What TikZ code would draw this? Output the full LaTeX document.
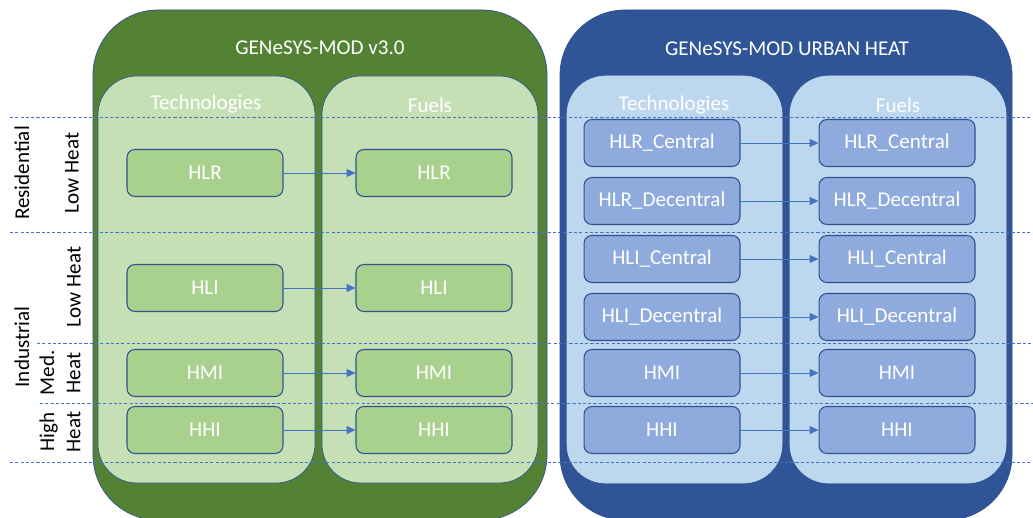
\documentclass[tikz,border=0pt]{standalone}
\usepackage{fontspec}
\setmainfont{Carlito}
\usetikzlibrary{math,arrows.meta}

\definecolor{gdark}{HTML}{548235}
\definecolor{glight}{HTML}{C5E0B4}
\definecolor{gbox}{HTML}{A9D18E}
\definecolor{bdark}{HTML}{2F5597}
\definecolor{blight}{HTML}{BDD7EE}
\definecolor{bbox}{HTML}{8FAADC}
\definecolor{edge}{HTML}{2F528F}
\definecolor{sep}{HTML}{4472C4}

\begin{document}
\begin{tikzpicture}[x=0.02cm, y=-0.02cm,
  every node/.style={font=\fontsize{12}{15}\selectfont, text=white},
  heatbox/.style={draw=edge, line width=0.6pt, rounded corners=4.5pt, minimum width=3.12cm, minimum height=0.94cm},
  flow/.style={draw=sep, line width=0.5pt, -{Triangle[length=5pt,width=4.5pt]}},
  sepline/.style={draw=sep, line width=0.5pt, dash pattern=on 1.8pt off 1.2pt},
  sidelabel/.style={rotate=90, text=black, align=center}]
  \tikzmath{%
    \gl = 93; \gr = 547; \bl = 560; \br = 1012;
    \ct = 10; \cb = 520; \it = 76; \ib = 483;
    \gtx = 205; \gfx = 434; \btx = 662; \bfx = 897;
  }
  \useasboundingbox (0,0) rectangle (1033,517);

  \draw[edge, fill=gdark, rounded corners=37pt] (\gl,\ct) rectangle (\gr,\cb);
  \draw[edge, fill=bdark, rounded corners=37pt] (\bl,\ct) rectangle (\br,\cb);
  \draw[edge, fill=glight, rounded corners=22pt] (98,\it) rectangle (315,\ib);
  \draw[edge, fill=glight, rounded corners=22pt] (322,\it) rectangle (538,\ib);
  \draw[blight, fill=blight, rounded corners=22pt] (567,\it) rectangle (782,\ib);
  \draw[blight, fill=blight, rounded corners=22pt] (790,\it) rectangle (1006,\ib);

  \node (gtitle) at (320,48) {GENeSYS-MOD v3.0};
  \node (btitle) at (787,49) {GENeSYS-MOD URBAN HEAT};
  \node (gtech) at (206,104) {Technologies};
  \node (gfuel) at (430,105) {Fuels};
  \node (btech) at (674,105) {Technologies};
  \node (bfuel) at (898,105) {Fuels};

  \draw[sepline] (10,117) -- (1033,117);
  \draw[sepline] (10,232) -- (1033,232);
  \draw[sepline] (37,343) -- (1033,343);
  \draw[sepline] (40,403) -- (1033,403);
  \draw[sepline] (10,462) -- (1033,462);

  \node[sidelabel] (res) at (22,173) {Residential};
  \node[sidelabel] (reslow) at (72,173) {Low Heat};
  \node[sidelabel] (ind) at (22,347) {Industrial};
  \node[sidelabel] (indlow) at (74,287) {Low Heat};
  \node[sidelabel] (indmed) at (60,373) {Med.\\Heat};
  \node[sidelabel] (indhigh) at (60,432) {High\\Heat};

  \node[heatbox, fill=gbox] (tHLR) at (\gtx,173) {HLR};
  \node[heatbox, fill=gbox] (fHLR) at (\gfx,173) {HLR};
  \node[heatbox, fill=gbox] (tHLI) at (\gtx,288) {HLI};
  \node[heatbox, fill=gbox] (fHLI) at (\gfx,288) {HLI};
  \node[heatbox, fill=gbox] (tHMI) at (\gtx,373) {HMI};
  \node[heatbox, fill=gbox] (fHMI) at (\gfx,373) {HMI};
  \node[heatbox, fill=gbox] (tHHI) at (\gtx,430) {HHI};
  \node[heatbox, fill=gbox] (fHHI) at (\gfx,430) {HHI};

  \foreach \nm/\lbl/\y in {uHLRc/HLR\_Central/143, uHLRd/HLR\_Decentral/201,
      uHLIc/HLI\_Central/259, uHLId/HLI\_Decentral/317, uHMI/HMI/373, uHHI/HHI/430} {
    \node[heatbox, fill=bbox] (t\nm) at (\btx,\y) {\lbl};
    \node[heatbox, fill=bbox] (f\nm) at (\bfx,\y) {\lbl};
    \draw[flow] (t\nm) -- (f\nm);
  }

  \draw[flow] (tHLR) -- (fHLR);
  \draw[flow] (tHLI) -- (fHLI);
  \draw[flow] (tHMI) -- (fHMI);
  \draw[flow] (tHHI) -- (fHHI);
\end{tikzpicture}
\end{document}
